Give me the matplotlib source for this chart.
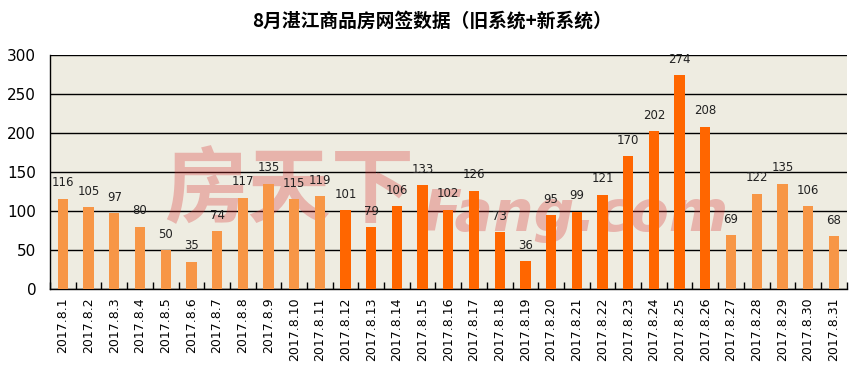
import matplotlib.pyplot as plt

plt.rcParams['font.family'] = ['DejaVu Sans', 'Noto Sans CJK SC']

# data
days = [f"2017.8.{d}" for d in range(1, 32)]
sales = [116, 105, 97, 80, 50, 35, 74, 117, 135, 115, 119,
         101, 79, 106, 133, 102, 126, 73, 36, 95, 99, 121, 170, 202, 274, 208,
         69, 122, 135, 106, 68]
new_system_start, new_system_end = 11, 26  # index range drawn in dark orange

light = '#F79646'
dark = '#FF6600'
colors = [dark if new_system_start <= i < new_system_end else light
          for i in range(len(sales))]

fig = plt.figure(figsize=(8.63, 3.84), dpi=100)
ax = fig.add_axes([0.058, 0.247, 0.923, 0.610])
ax.set_facecolor('#EEECE1')

x = list(range(len(sales)))
ax.bar(x, sales, width=0.4, color=colors, zorder=3)

for xi, v in zip(x, sales):
    ax.annotate(str(v), (xi, v), xytext=(0, 11.5), textcoords='offset points',
                ha='center', va='center', fontsize=8.5, color='#222222', zorder=5)

ax.set_xlim(-0.5, len(sales) - 0.5)
ax.set_ylim(0, 300)
ax.set_yticks(range(0, 301, 50))
ax.yaxis.grid(True, color='black', linewidth=1, zorder=1)
ax.tick_params(axis='y', length=0, labelsize=11, pad=10)

ax.set_xticks(x)
ax.set_xticklabels(days, rotation=90, fontsize=9)
ax.set_xticks([i + 0.5 for i in range(-1, len(sales))], minor=True)
ax.tick_params(axis='x', which='major', length=0, pad=6)
ax.tick_params(axis='x', which='minor', direction='in', length=5, width=1)

for side in ['top', 'right']:
    ax.spines[side].set_visible(False)
ax.spines['left'].set_linewidth(1)
ax.spines['bottom'].set_linewidth(1)

# watermark, behind the bars
ax.text(0.19, 0.50, '房天下', fontsize=60, color='#d83030', alpha=0.3,
        family=['Noto Sans CJK SC'], fontweight='bold', va='center',
        transform=fig.transFigure, zorder=2)
ax.text(0.49, 0.44, 'Fang.com', fontsize=41, color='#d83030', alpha=0.3,
        fontweight='bold', style='italic', va='center',
        transform=fig.transFigure, zorder=2)

fig.text(0.5, 0.945, '8月湛江商品房网签数据（旧系统+新系统）', ha='center', va='center',
         fontsize=13.5, fontweight='bold', family=['Noto Sans CJK SC', 'DejaVu Sans'])

fig.savefig('out.png', dpi=100, facecolor='white')
